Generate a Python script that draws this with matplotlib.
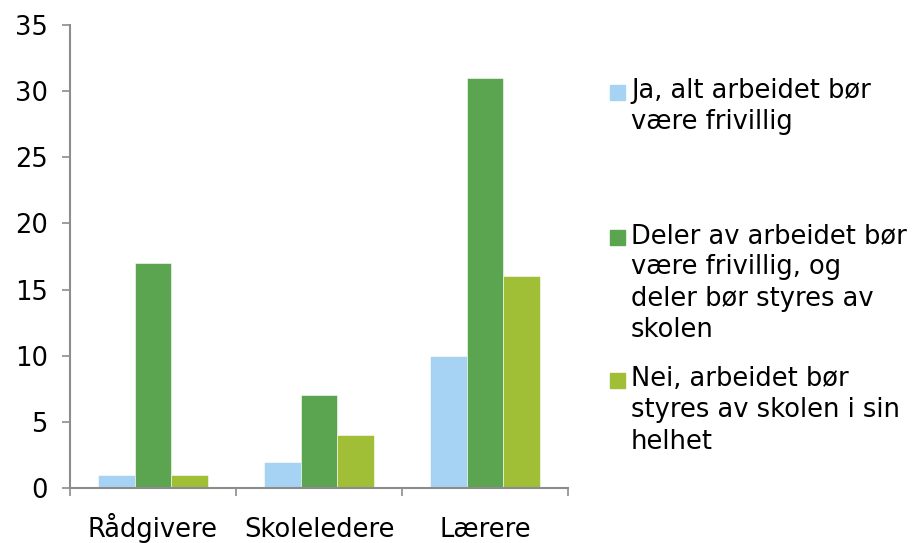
import numpy as np
import matplotlib.pyplot as plt
from matplotlib.patches import Rectangle

#%% Data
categories = ["Rådgivere", "Skoleledere", "Lærere"]
series_labels = [
    "Ja, alt arbeidet bør\nvære frivillig",
    "Deler av arbeidet bør\nvære frivillig, og\ndeler bør styres av\nskolen",
    "Nei, arbeidet bør\nstyres av skolen i sin\nhelhet",
]
ja = [1, 2, 10]
deler = [17, 7, 31]
nei = [1, 4, 16]
colors = ["#A6D3F3", "#5BA550", "#A1BE37"]

#%% Plot
plt.rcParams['font.family'] = ['DejaVu Sans']
fs = 18.5
axis_color = "#8C8C8C"

fig = plt.figure(figsize=(9.19, 5.43), dpi=100)
ax = fig.add_axes([70 / 919, 1 - 488 / 543, 498 / 919, 463 / 543])

x = np.arange(len(categories))
w = 0.222
for i, vals in enumerate([ja, deler, nei]):
    ax.bar(x + (i - 1) * w, vals, w, color=colors[i], label=series_labels[i],
           edgecolor="white", linewidth=0.4)

ax.set_xlim(-0.5, 2.5)
ax.set_ylim(0, 35)
ax.set_yticks(np.arange(0, 36, 5))
ax.set_xticks([-0.5, 0.5, 1.5, 2.5])
ax.set_xticklabels([])
ax.set_xticks(x, minor=True)
ax.set_xticklabels(categories, minor=True, va="baseline")
ax.tick_params(axis="x", which="major", length=6, width=1.2, color=axis_color, direction="out")
ax.tick_params(axis="x", which="minor", length=0, pad=35, labelsize=fs)
ax.tick_params(axis="y", length=6, width=1.2, color=axis_color, pad=10, labelsize=fs)
for s in ["top", "right"]:
    ax.spines[s].set_visible(False)
for s in ["left", "bottom"]:
    ax.spines[s].set_color(axis_color)
    ax.spines[s].set_linewidth(1.5)

# legend drawn by hand: evenly spaced entries, like the source
patch_tops = [85, 230, 373]
for lab, c, yp in zip(series_labels, colors, patch_tops):
    fig.patches.append(Rectangle((610 / 919, 1 - (yp + 15) / 543), 15 / 919, 15 / 543,
                                 transform=fig.transFigure, color=c))
    fig.text(631 / 919, 1 - (yp - 7) / 543, lab, fontsize=fs, va="top", ha="left",
             linespacing=1.27)

fig.savefig("out.png", dpi=100)
